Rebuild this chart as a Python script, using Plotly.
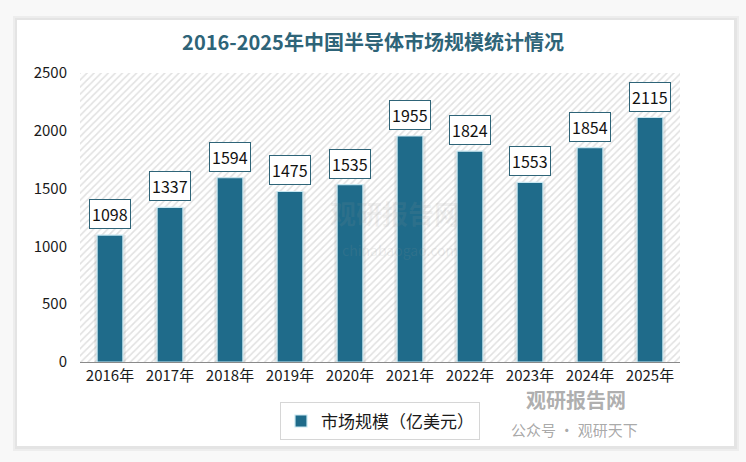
import plotly.graph_objects as go

years = ["2016年", "2017年", "2018年", "2019年", "2020年", "2021年", "2022年", "2023年", "2024年", "2025年"]
values = [1098, 1337, 1594, 1475, 1535, 1955, 1824, 1553, 1854, 2115]
series_name = "市场规模（亿美元）"
title_text = "2016-2025年中国半导体市场规模统计情况"
y_max = 2500

W, H = 746, 462
L, R, T, B = 80, 66, 73, 100
pw, ph = W - L - R, H - T - B


def px_x(x):
    return (x - L) / pw


def px_y(y):
    return (H - B - y) / ph


FONT = "Noto Sans CJK SC"
BAR = "#1f6b8a"
TEAL = "#2e6478"

fig = go.Figure()

# hatched plot background
fig.add_trace(go.Bar(
    x=[years[0]], y=[y_max], width=[len(years)], offset=-0.5,
    marker=dict(color="white", line=dict(width=0),
                pattern=dict(shape="/", fgcolor="#c4c4c4", bgcolor="white", size=5, solidity=0.32)),
    showlegend=False, hoverinfo="skip",
))

# soft bar shadow
fig.add_trace(go.Bar(
    x=years, y=values, width=0.52,
    marker=dict(color="rgba(150,150,150,0.22)", line=dict(width=0)),
    showlegend=False, hoverinfo="skip",
))

fig.add_trace(go.Bar(
    x=years, y=values, width=0.43, name=series_name,
    marker=dict(color=BAR, line=dict(color="#c9e8f1", width=1.2)),
))

annotations = []
for yr, v in zip(years, values):
    annotations.append(dict(
        x=yr, y=v, xref="x", yref="y", text=str(v), showarrow=False,
        yanchor="bottom", yshift=6,
        font=dict(family=FONT, size=16, color="#111111"),
        bgcolor="white", bordercolor=TEAL, borderwidth=1, borderpad=2,
    ))

# watermarks
annotations += [
    dict(x=px_x(395), y=px_y(212), xref="paper", yref="paper", text="<b>观研报告网</b>", showarrow=False,
         font=dict(family=FONT, size=26, color="rgba(150,150,150,0.12)")),
    dict(x=px_x(400), y=px_y(250), xref="paper", yref="paper", text="chinabaogao.com", showarrow=False,
         font=dict(family=FONT, size=14, color="rgba(150,150,150,0.15)")),
    dict(x=px_x(628), y=px_y(416), xref="paper", yref="paper", text="<b>观研报告网</b>", showarrow=False,
         font=dict(family=FONT, size=20, color="rgba(140,140,140,0.7)")),
    dict(x=px_x(640), y=px_y(442), xref="paper", yref="paper", text="公众号 · 观研天下", showarrow=False,
         font=dict(family=FONT, size=15, color="rgba(120,120,120,0.65)")),
]

shapes = [
    dict(type="rect", xref="paper", yref="paper", layer="below",
         x0=px_x(13), x1=px_x(739), y0=px_y(16), y1=px_y(451),
         fillcolor="#ededed", line=dict(width=0)),
    dict(type="rect", xref="paper", yref="paper", layer="below",
         x0=px_x(15), x1=px_x(737), y0=px_y(18), y1=px_y(449),
         fillcolor="#e4e4e4", line=dict(width=0)),
    dict(type="rect", xref="paper", yref="paper", layer="below",
         x0=px_x(17), x1=px_x(734), y0=px_y(20), y1=px_y(446),
         fillcolor="white", line=dict(width=0)),
]

fig.update_layout(
    width=W, height=H,
    margin=dict(l=L, r=R, t=T, b=B),
    paper_bgcolor="#f8f8f8", plot_bgcolor="white",
    barmode="overlay",
    title=dict(text=f"<b>{title_text}</b>", x=px_x(373), xanchor="center", xref="paper",
               y=1 - 43 / H, yanchor="middle",
               font=dict(family=FONT, size=20, color=TEAL)),
    xaxis=dict(type="category", categoryorder="array", categoryarray=years,
               range=[-0.5, len(years) - 0.5],
               showline=True, linecolor="#8a8a8a", linewidth=1, ticks="",
               tickfont=dict(family=FONT, size=15, color="#1a1a1a"), showgrid=False),
    yaxis=dict(range=[0, y_max], dtick=500, showgrid=False, zeroline=False, showline=False,
               ticks="", ticklabelstandoff=12,
               tickfont=dict(family=FONT, size=15, color="#1a1a1a")),
    legend=dict(orientation="h", x=0.5, xanchor="center", y=-0.14, yanchor="top",
                bordercolor="#d6d6d6", borderwidth=1, bgcolor="white",
                font=dict(family=FONT, size=17, color="#1a1a1a")),
    annotations=annotations,
    shapes=shapes,
    showlegend=True,
)

fig.write_html("out.html")
